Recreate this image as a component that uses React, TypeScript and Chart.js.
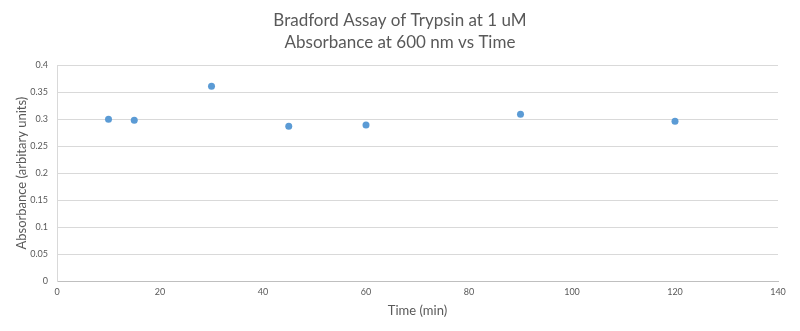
import React, { useEffect, useRef } from "react";
import { Chart, registerables } from "chart.js";

Chart.register(...registerables);

const timeMin = [10, 15, 30, 45, 60, 90, 120];
const absorbance = [0.300, 0.298, 0.361, 0.287, 0.289, 0.309, 0.296];
const xTicks = [0, 20, 40, 60, 80, 100, 120, 140];
const yTickLabels = ["0", "0.05", "0.1", "0.15", "0.2", "0.25", "0.3", "0.35", "0.4"];
const titleLines = ["Bradford Assay of Trypsin at 1 uM", "Absorbance at 600 nm vs Time"];
const xTitle = "Time (min)";
const yTitle = "Absorbance (arbitary units)";

const FONT = "Lato, 'Open Sans', sans-serif";
const TEXT = "#595959";

export default function App() {
  const ref = useRef<HTMLCanvasElement | null>(null);
  useEffect(() => {
    document.body.style.margin = "0";
    const ctx = ref.current!;
    const chart = new Chart(ctx, {
      type: "scatter",
      data: {
        datasets: [
          {
            data: timeMin.map((t, i) => ({ x: t, y: absorbance[i] })),
            backgroundColor: "#5b9bd5",
            borderColor: "#5b9bd5",
            pointRadius: 3.5,
            pointBorderWidth: 0,
          },
        ],
      },
      options: {
        animation: false,
        responsive: false,
        maintainAspectRatio: false,
        layout: { padding: { left: 22, right: 22, top: 0, bottom: 8 } },
        plugins: {
          legend: { display: false },
          tooltip: { enabled: false },
          title: {
            display: true,
            text: titleLines,
            color: TEXT,
            font: { family: FONT, size: 17, weight: "normal", lineHeight: 1.3 },
            padding: { top: 9, bottom: 12 },
          },
        },
        scales: {
          x: {
            type: "linear",
            min: 0,
            max: 140,
            afterBuildTicks: (s: any) => {
              s.ticks = xTicks.map((v) => ({ value: v }));
            },
            afterFit: (s: any) => {
              s.height = 42;
            },
            grid: { display: false, drawTicks: false },
            border: { display: true, color: "#bfbfbf", width: 1 },
            ticks: {
              color: TEXT,
              font: { family: FONT, size: 9 },
              padding: 6,
              maxRotation: 0,
              autoSkip: false,
            },
            title: {
              display: true,
              text: xTitle,
              color: TEXT,
              font: { family: FONT, size: 13 },
              padding: { top: 4, bottom: 4 },
            },
          },
          y: {
            type: "linear",
            min: 0,
            max: 0.4,
            afterBuildTicks: (s: any) => {
              s.ticks = yTickLabels.map((l) => ({ value: parseFloat(l) }));
            },
            afterFit: (s: any) => {
              s.width = 35;
            },
            grid: { color: "#d9d9d9", drawTicks: false, lineWidth: 1 },
            border: { display: true, color: "#d9d9d9", width: 1 },
            ticks: {
              color: TEXT,
              font: { family: FONT, size: 9 },
              padding: 9,
              autoSkip: false,
              callback: (v: any, i: number) => yTickLabels[i] ?? String(v),
            },
            title: {
              display: true,
              text: yTitle,
              color: TEXT,
              font: { family: FONT, size: 13 },
              padding: { top: -8, bottom: 0 },
            },
          },
        },
      },
    } as any);
    return () => chart.destroy();
  }, []);
  return (
    <div style={{ position: "relative", width: 800, height: 331, background: "#fff" }}>
      <canvas ref={ref} width={800} height={331} style={{ display: "block", width: 800, height: 331 }} />
    </div>
  );
}
